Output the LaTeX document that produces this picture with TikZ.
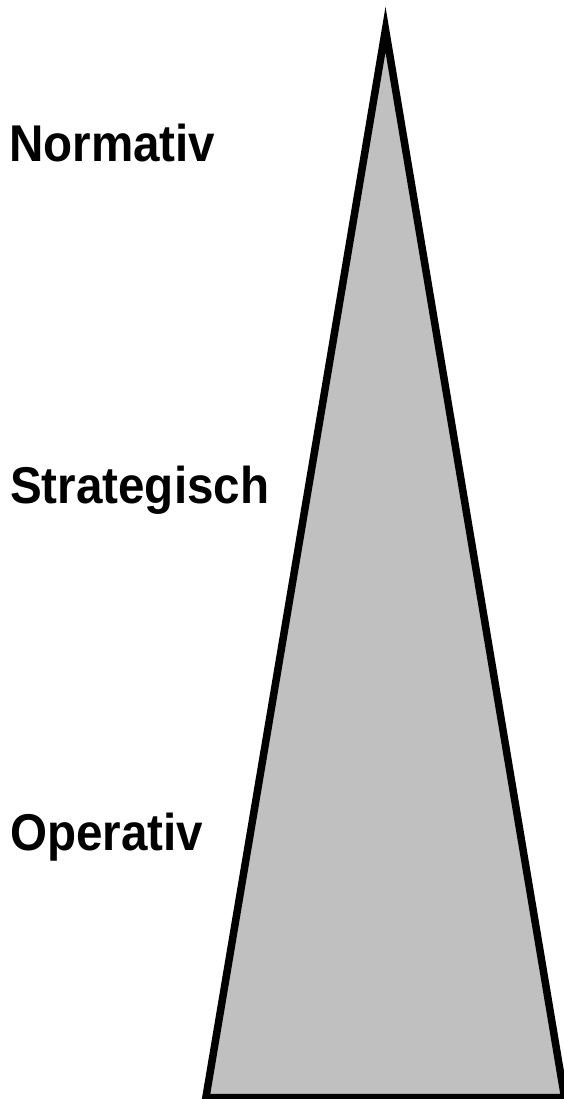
\documentclass[tikz,border=0pt]{standalone}
\usepackage{fontspec}
\newfontfamily\labfont[FakeStretch=0.92]{Liberation Sans}
\begin{document}
\begin{tikzpicture}[x=1pt,y=-1pt,
  lab/.style={anchor=base west,inner sep=0pt,font=\labfont\bfseries\fontsize{51.7}{60}\selectfont},
  tri/.style={draw=black,fill={rgb,255:red,192;green,192;blue,192},line width=7.5pt,line join=miter,miter limit=20}]
\useasboundingbox (0,0) rectangle (564,1099);
\clip (0,0) rectangle (564,1099);
\coordinate (apex) at (385.5,29.5);
\coordinate (bl) at (205.9,1097.5);
\coordinate (br) at (564.6,1097.5);
\draw[tri] (apex) -- (br) -- (bl) -- cycle;
\node[lab] (normativ) at (9,161.7) {Normativ};
\node[lab] (strategisch) at (10,503.5) {Strategisch};
\node[lab] (operativ) at (10,850) {Operativ};
\end{tikzpicture}
\end{document}
